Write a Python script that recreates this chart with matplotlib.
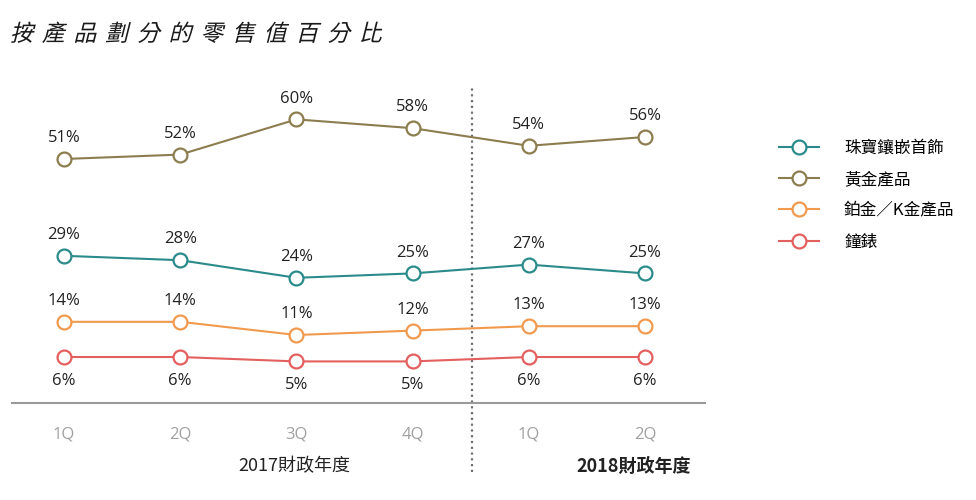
import matplotlib
matplotlib.use("Agg")
import matplotlib.pyplot as plt
from matplotlib.textpath import TextPath
from matplotlib.patches import PathPatch
from matplotlib.font_manager import FontProperties
from matplotlib.transforms import Affine2D, IdentityTransform

# Share of retail value by product category, per quarter
quarters = ['1Q', '2Q', '3Q', '4Q', '1Q', '2Q']
jewellery = [29, 28, 24, 25, 27, 25]
gold = [51, 52, 60, 58, 54, 56]
platinum = [14, 14, 11, 12, 13, 13]
watches = [6, 6, 5, 5, 6, 6]

series_names = ['珠寶鑲嵌首飾', '黃金產品', '鉑金／K金產品', '鐘錶']
title = '按產品劃分的零售值百分比'
year_labels = ['2017財政年度', '2018財政年度']

plt.rcParams['font.family'] = ['Open Sans', 'Noto Sans CJK TC', 'DejaVu Sans']
cjk = ['Noto Sans CJK TC', 'DejaVu Sans']

colours = ['#2b8b8a', '#8c7d4f', '#f19a4e', '#e3605f']
all_series = [jewellery, gold, platinum, watches]
label_below = [False, False, False, True]

fig = plt.figure(figsize=(9.76, 5.0), dpi=100)
ax = fig.add_axes([12 / 976, 97 / 500, 693 / 976, 323 / 500])
x = list(range(len(quarters)))

handles = []
for values, colour, name, below in zip(all_series, colours, series_names, label_below):
    line, = ax.plot(x, values, '-o', color=colour, lw=1.5, markersize=10,
                    markerfacecolor='white', markeredgecolor=colour,
                    markeredgewidth=1.6, label=name, zorder=3)
    handles.append(line)
    for xi, v in zip(x, values):
        ax.annotate(f'{v}%', (xi, v), xytext=(0, -17 if below else 15),
                    textcoords='offset points', ha='center', va='center',
                    fontsize=12, color='#222222')

ax.set_xlim(-0.4475, 5.516)
ax.set_ylim(-4.45, 68.95)
for side in ['top', 'right', 'left']:
    ax.spines[side].set_visible(False)
ax.spines['bottom'].set_color('#9a9a9a')
ax.spines['bottom'].set_linewidth(1.5)
ax.set_yticks([])
ax.set_xticks(x)
ax.set_xticklabels(quarters, color='#a0a0a0', fontsize=12)
ax.tick_params(axis='x', length=0, pad=17)

# fiscal year divider
ax.plot([3.51, 3.51], [-20.1, 67.1], color='#707070', lw=1.6,
        linestyle=(0, (1, 1.6)), clip_on=False, zorder=1)

fig.text(294 / 976, 1 - 466 / 500, year_labels[0], ha='center', va='center',
         fontsize=13, color='#222222', family=cjk)
fig.text(634 / 976, 1 - 466 / 500, year_labels[1], ha='center', va='center',
         fontsize=13, color='#222222', family=cjk, fontweight='bold')

fig.legend(handles=handles, labels=series_names, loc='upper left',
           bbox_to_anchor=(764 / 976, 1 - 125 / 500), frameon=False,
           prop=FontProperties(family=cjk, size=12), handlelength=2.4,
           handletextpad=1.5, labelspacing=0.85)

# italic-looking spaced title drawn from glyph paths
fp = FontProperties(family='Noto Sans CJK TC', weight='light')
for i, ch in enumerate(title):
    path = TextPath((0, 0), ch, size=23, prop=fp)
    tr = Affine2D().skew_deg(14, 0).translate(10 + i * 31.7, 459)
    fig.patches.append(PathPatch(path, transform=tr + IdentityTransform(),
                                 color='#1a1a1a', lw=0))

fig.savefig('out.png', dpi=100)
